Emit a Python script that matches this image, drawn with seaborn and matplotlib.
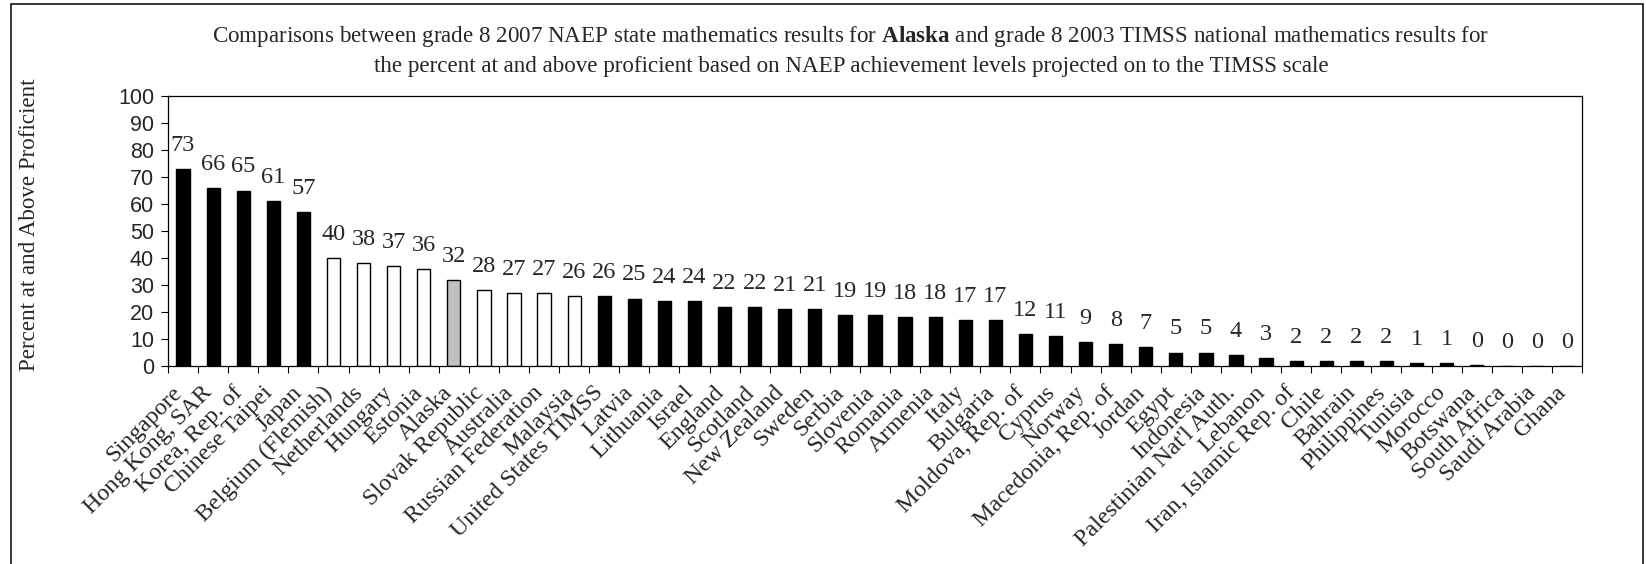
import numpy as np
import pandas as pd
import matplotlib
matplotlib.use("Agg")
import matplotlib.pyplot as plt
from matplotlib.patches import Rectangle
from matplotlib.transforms import ScaledTranslation
import seaborn as sns

# ---------------- data ----------------
countries = [
    "Singapore", "Hong Kong, SAR", "Korea, Rep. of", "Chinese Taipei", "Japan",
    "Belgium (Flemish)", "Netherlands", "Hungary", "Estonia", "Alaska",
    "Slovak Republic", "Australia", "Russian Federation", "Malaysia",
    "United States TIMSS", "Latvia", "Lithuania", "Israel", "England", "Scotland",
    "New Zealand", "Sweden", "Serbia", "Slovenia", "Romania", "Armenia", "Italy",
    "Bulgaria", "Moldova, Rep. of", "Cyprus", "Norway", "Macedonia, Rep. of",
    "Jordan", "Egypt", "Indonesia", "Palestinian Nat'l Auth.", "Lebanon",
    "Iran, Islamic Rep. of", "Chile", "Bahrain", "Philippines", "Tunisia",
    "Morocco", "Botswana", "South Africa", "Saudi Arabia", "Ghana",
]
percent = [
    73, 66, 65, 61, 57,
    40, 38, 37, 36, 32,
    28, 27, 27, 26,
    26, 25, 24, 24, 22,
    22, 21, 21, 19, 19, 18, 18, 17,
    17, 12, 11, 9, 8,
    7, 5, 5, 4, 3,
    2, 2, 2, 2, 1,
    1, 0.4, 0, 0, 0,
]
group = (["higher"] * 5 + ["not different"] * 4 + ["Alaska"] +
         ["not different"] * 4 + ["lower"] * 33)

title_line1 = ("Comparisons between grade 8 2007 NAEP state mathematics results for "
               r"$\mathbf{Alaska}$ and grade 8 2003 TIMSS national mathematics results for")
title_line2 = ("the percent at and above proficient based on NAEP achievement levels "
               "projected on to the TIMSS scale")
ylabel = "Percent at and Above Proficient"
yticks = list(range(0, 101, 10))

# ---------------- style ----------------
sns.set_style("white")
plt.rcParams["font.family"] = ["Liberation Serif", "DejaVu Serif"]
plt.rcParams["mathtext.fontset"] = "custom"
plt.rcParams["mathtext.rm"] = "Liberation Serif"
plt.rcParams["mathtext.bf"] = "Liberation Serif:bold"

palette = {"higher": "#000000", "not different": "#FFFFFF",
           "Alaska": "#C0C0C0", "lower": "#000000"}

W, H = 1646, 564
fig = plt.figure(figsize=(W / 100, H / 100), dpi=100)
ax_left, ax_right, ax_top, ax_bottom = 168, 1582, 96, 366
ax = fig.add_axes([ax_left / W, 1 - ax_bottom / H,
                   (ax_right - ax_left) / W, (ax_bottom - ax_top) / H])

df = pd.DataFrame({"country": countries, "percent": percent, "group": group})
sns.barplot(data=df, x="country", y="percent", hue="group", palette=palette,
            order=countries, dodge=False, width=0.44, edgecolor="black",
            linewidth=1.0, legend=False, ax=ax, saturation=1)

n = len(countries)
ax.set_xlim(-0.5, n - 0.5)
ax.set_ylim(0, 100)
ax.set_yticks(yticks)
ax.set_xlabel("")
ax.set_ylabel("")

for s in ax.spines.values():
    s.set_visible(True)
    s.set_color("black")
    s.set_linewidth(0.9)

# value labels
for i, v in enumerate(percent):
    ax.annotate(f"{v:.0f}", (i, v), xytext=(0, 13), textcoords="offset points",
                ha="center", va="baseline", fontsize=17.5,
                family="Liberation Serif")

# x ticks
ax.set_xticks(range(n))
ax.set_xticklabels(countries, rotation=45, ha="right", va="center",
                   rotation_mode="anchor", fontsize=17.3, family="Liberation Serif")
ax.set_xticks(np.arange(-0.5, n), minor=True)
ax.tick_params(axis="x", which="major", length=0, pad=17)
ax.tick_params(axis="x", which="minor", length=5, width=0.8, direction="out",
               color="black", bottom=True)
off = ScaledTranslation(-0.04, 0, fig.dpi_scale_trans)
for lab in ax.get_xticklabels():
    lab.set_transform(lab.get_transform() + off)

# y ticks
ax.tick_params(axis="y", which="major", length=5, width=0.8, direction="out",
               color="black", left=True, pad=5, labelsize=15.5)
for lab in ax.get_yticklabels():
    lab.set_fontfamily("Liberation Sans")

# y label
fig.text(30 / W, 1 - 225 / H, ylabel, rotation=90, ha="center", va="center",
         fontsize=16.6, family="Liberation Serif")

# title
fig.text(851 / W, 1 - 42 / H, title_line1, ha="center", va="baseline",
         fontsize=16.6, family="Liberation Serif")
fig.text(851 / W, 1 - 72 / H, title_line2, ha="center", va="baseline",
         fontsize=16.6, family="Liberation Serif")

# chart-area border
fig.add_artist(Rectangle((11 / W, -0.1), (1643 - 11) / W, 1.1 - 4 / H,
                         transform=fig.transFigure, fill=False,
                         edgecolor="black", linewidth=1.1))

fig.savefig("out.png", dpi=100)
